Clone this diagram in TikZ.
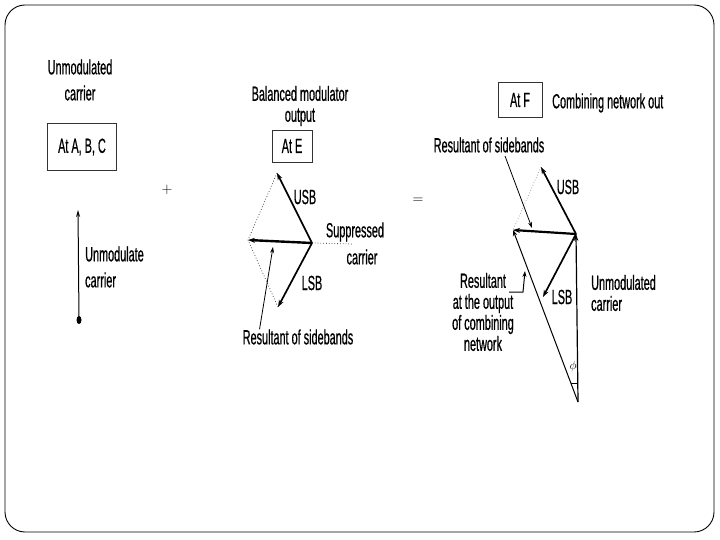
\documentclass[tikz,border=0pt]{standalone}
\usepackage{fontspec}
\newfontfamily\cond[FakeStretch=0.53,FakeBold=0.6]{Liberation Sans}
\usetikzlibrary{arrows.meta}
\tikzset{
  lab/.style={font=\cond\fontsize{20.5}{21}\selectfont, inner sep=0pt, text=black},
  labwide/.style={lab, font=\cond\fontsize{20.5}{26}\selectfont},
  tag/.style={draw=black!80, line width=0.8pt, inner sep=0pt, font=\cond\fontsize{20.5}{21}\selectfont},
  vec/.style={line width=1.7pt, -{Stealth[length=7pt,width=5pt]}},
  thinvec/.style={line width=1pt, -{Stealth[length=6pt,width=4.5pt]}},
  ptr/.style={line width=0.8pt, -{Stealth[length=6pt,width=4pt]}},
  dots/.style={line width=0.8pt, dotted, black!70},
}
\begin{document}
\begin{tikzpicture}[x=1pt,y=-1pt]
\useasboundingbox (0,0) rectangle (720,540);
\draw[line width=0.9pt, rounded corners=20pt] (5,5) rectangle (714,532);

% ---------- Panel 1 ----------
\node[labwide, align=center] (t1) at (80,80) {Unmodulated\\carrier};
\node[tag, minimum width=69pt, minimum height=47pt] (bABC) at (82,147) {At A, B, C};
\node[font=\fontsize{15}{18}\selectfont, inner sep=0pt] (plus) at (167,190) {+};
\coordinate (c1b) at (79,320);
\coordinate (c1t) at (78,210);
\draw[line width=1pt, -{Stealth[length=7pt,width=4pt]}] (c1b) -- (c1t);
\fill (c1b) ellipse (2.5pt and 4pt);
\node[labwide, align=left, anchor=west] (t2) at (85,267) {Unmodulate\\carrier};

% ---------- Panel 2 ----------
\node[lab, align=center] (t3) at (300,106) {Balanced modulator\\output};
\node[tag, minimum width=40pt, minimum height=32pt] (bE) at (292,146) {At E};
\coordinate (O) at (312,243);
\coordinate (U2) at (277,173);
\coordinate (R2) at (248,240);
\coordinate (L2) at (278,307);
\coordinate (S2) at (353,244);
\draw[dots] (U2) -- (R2) -- (L2);
\draw[dots] (O) -- (S2);
\draw[vec] (O) -- (U2);
\draw[vec] (O) -- (L2);
\draw[vec, line width=2.4pt] (O) -- (R2);
\node[lab] (usb2) at (305,197) {USB};
\node[lab] (lsb2) at (312,283) {LSB};
\node[lab] (sup1) at (355,232) {Suppressed};
\node[lab] (sup2) at (362,257) {carrier};
\node[lab] (rs2) at (298,337) {Resultant of sidebands};
\coordinate (p2) at (273,247);
\draw[ptr] (rs2.north west) ++(17,0) -- (p2);

\node[font=\fontsize{15}{18}\selectfont, inner sep=0pt] (eq) at (418,201) {=};

% ---------- Panel 3 ----------
\node[tag, minimum width=44pt, minimum height=35pt] (bF) at (520,100) {At F};
\begin{scope}
\clip (540,80) rectangle (663,120);
\node[lab, anchor=west] (comb) at (552,103) {Combining network outp};
\end{scope}
\node[lab] (rs3) at (489,145) {Resultant of sidebands};
\coordinate (P) at (576,234);
\coordinate (U3) at (541,167);
\coordinate (R3) at (513,230);
\coordinate (L3) at (543,297);
\coordinate (B3) at (578,402);
\draw[dots, black!35] (U3) -- (R3);
\draw[line width=1.2pt, -{Stealth[length=7pt,width=4.5pt]}] (B3) -- (P);
\draw[thinvec] (B3) -- (R3);
\draw[vec] (P) -- (U3);
\draw[vec] (P) -- (L3);
\draw[vec, line width=2.2pt] (P) -- (R3);
\coordinate (p3) at (532,228);
\draw[ptr] (505,156) -- (p3);
\node[lab] (usb3) at (568,187) {USB};
\node[lab] (lsb3) at (562,297) {LSB};
\node[lab, align=left, anchor=west] (uc3) at (591,293) {Unmodulated\\carrier};
\node[lab, align=center] (res3) at (483,312) {Resultant\\at the output\\of combining\\network};
\coordinate (e1) at (509,292);
\coordinate (e2) at (523,292);
\coordinate (e3) at (525,271);
\draw[ptr, line width=1pt] (e1) -- (e2) -- (e3);
\node[font=\fontsize{12}{14}\selectfont, inner sep=0pt] (phi) at (573,366) {$\phi$};
\draw[line width=1pt] (571,383) -- (577,383);
\end{tikzpicture}
\end{document}
